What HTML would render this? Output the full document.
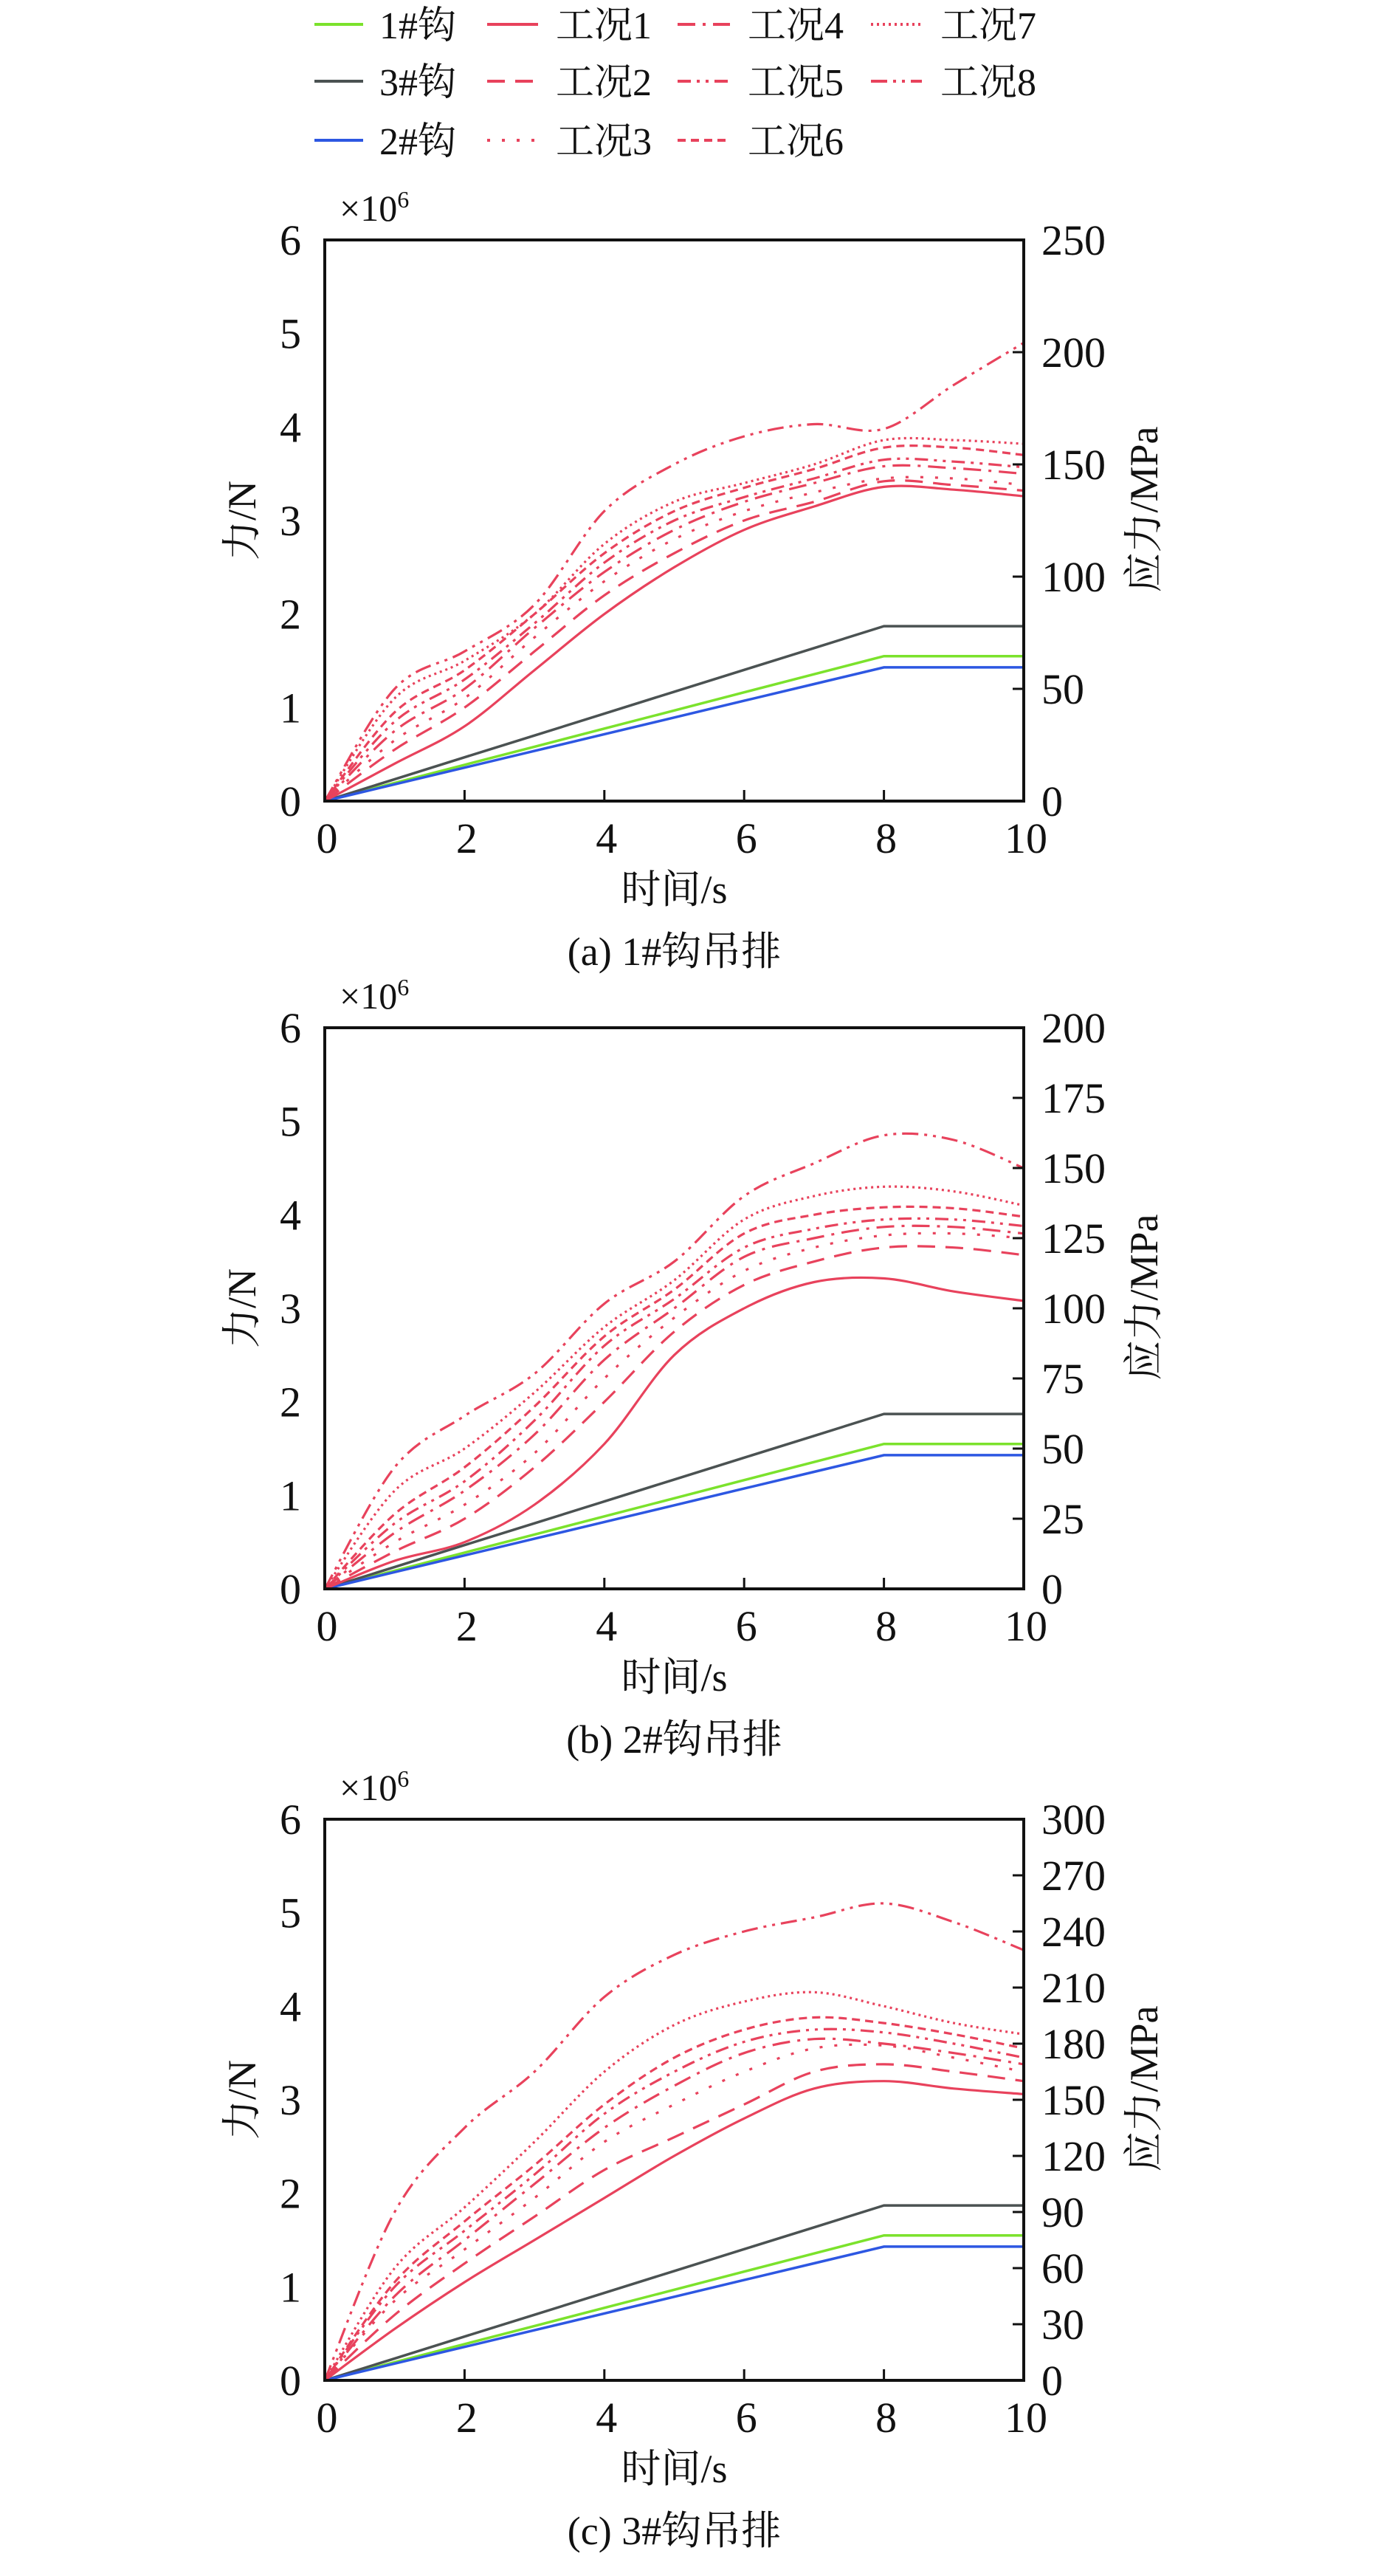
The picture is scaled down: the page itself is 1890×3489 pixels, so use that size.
<!DOCTYPE html>
<html><head><meta charset="utf-8"><style>
html,body{margin:0;padding:0;background:#fff;}
svg text{font-family:"Liberation Serif","Noto Serif CJK SC","Noto Sans CJK SC",serif;fill:#111;}
</style></head><body>
<svg id="fig" xmlns="http://www.w3.org/2000/svg" width="1890" height="3484" viewBox="0 0 1890 3484"></svg>
<script>
const timeVals=[0,1,2,3,4,5,6,7,8,9,10];
const hookNames=["1#钩","3#钩","2#钩"];
const hook1=[0,0.194,0.388,0.581,0.775,0.969,1.163,1.356,1.55,1.55,1.55];
const hook3=[0,0.234,0.468,0.701,0.935,1.169,1.403,1.636,1.87,1.87,1.87];
const hook2=[0,0.179,0.358,0.536,0.715,0.894,1.073,1.251,1.43,1.43,1.43];
const caseNames=["工况1","工况2","工况3","工况4","工况5","工况6","工况7","工况8"];
const a1=[0,0.4,0.8,1.4,2.0,2.5,2.9,3.15,3.36,3.33,3.26];
const a2=[0,0.55,1.0,1.6,2.2,2.65,3.0,3.2,3.42,3.38,3.32];
const a3=[0,0.65,1.1,1.75,2.35,2.8,3.1,3.3,3.45,3.45,3.38];
const a4=[0,0.75,1.2,1.85,2.45,2.9,3.2,3.4,3.58,3.56,3.5];
const a5=[0,0.85,1.3,1.9,2.55,3.0,3.25,3.45,3.65,3.63,3.57];
const a6=[0,0.95,1.4,2.0,2.65,3.1,3.35,3.55,3.78,3.78,3.7];
const a7=[0,1.1,1.5,2.0,2.75,3.2,3.4,3.6,3.86,3.86,3.82];
const a8=[0,1.2,1.6,2.1,3.1,3.6,3.9,4.03,3.98,4.45,4.9];
const b1=[0,0.3,0.5,0.9,1.55,2.5,3.0,3.28,3.32,3.18,3.08];
const b2=[0,0.4,0.75,1.3,2.0,2.75,3.25,3.5,3.65,3.65,3.57];
const b3=[0,0.5,0.9,1.45,2.25,2.9,3.4,3.65,3.78,3.8,3.75];
const b4=[0,0.6,1.05,1.65,2.45,3.0,3.55,3.75,3.87,3.87,3.8];
const b5=[0,0.7,1.15,1.8,2.6,3.1,3.65,3.85,3.95,3.95,3.88];
const b6=[0,0.8,1.3,1.95,2.7,3.2,3.8,4.0,4.08,4.07,3.98];
const b7=[0,1.05,1.5,2.1,2.8,3.3,3.95,4.2,4.3,4.25,4.1];
const b8=[0,1.3,1.85,2.3,3.05,3.5,4.2,4.55,4.85,4.8,4.5];
const c1=[0,0.55,1.05,1.5,1.95,2.4,2.8,3.12,3.2,3.12,3.06];
const c2=[0,0.7,1.25,1.75,2.25,2.6,2.95,3.3,3.38,3.3,3.2];
const c3=[0,0.85,1.4,1.95,2.55,2.95,3.3,3.55,3.58,3.45,3.3];
const c4=[0,0.9,1.5,2.1,2.7,3.15,3.5,3.65,3.6,3.5,3.38];
const c5=[0,1.0,1.6,2.2,2.85,3.3,3.62,3.75,3.72,3.6,3.45];
const c6=[0,1.05,1.7,2.3,2.95,3.45,3.75,3.88,3.82,3.7,3.55];
const c7=[0,1.2,1.85,2.55,3.3,3.8,4.05,4.15,4.0,3.82,3.7];
const c8=[0,1.8,2.7,3.3,4.1,4.55,4.8,4.95,5.1,4.9,4.6];
const xTicks=[0,2,4,6,8,10];
const leftTicks=[0,1,2,3,4,5,6];
const rightTicksA=[0,50,100,150,200,250];
const rightTicksB=[0,25,50,75,100,125,150,175,200];
const rightTicksC=[0,30,60,90,120,150,180,210,240,270,300];

const NS="http://www.w3.org/2000/svg";
const svg=document.getElementById('fig');
const RED="#e8425c";
const hookColors=["#7be22c","#4b5252","#2d57e2"];
const dashes=["","24,14","4,16","24,10,4,10","18,8,4,8,4,8","11,7","3,5","22,8,4,8,4,8"];
function mk(tag,attrs,parent){const e=document.createElementNS(NS,tag);for(const k in attrs)e.setAttribute(k,attrs[k]);(parent||svg).appendChild(e);return e;}
function txt(s,x,y,size,anchor,parent){const t=mk('text',{x:x,y:y,'font-size':size,'text-anchor':anchor||'start'},parent);t.textContent=s;return t;}
function smooth(pts){let d="M"+pts[0][0]+","+pts[0][1];for(let i=0;i<pts.length-1;i++){const p0=pts[Math.max(0,i-1)],p1=pts[i],p2=pts[i+1],p3=pts[Math.min(pts.length-1,i+2)];const c1x=p1[0]+(p2[0]-p0[0])/6,c1y=p1[1]+(p2[1]-p0[1])/6,c2x=p2[0]-(p3[0]-p1[0])/6,c2y=p2[1]-(p3[1]-p1[1])/6;d+=" C"+c1x.toFixed(1)+","+c1y.toFixed(1)+" "+c2x.toFixed(1)+","+c2y.toFixed(1)+" "+p2[0].toFixed(1)+","+p2[1].toFixed(1);}return d;}

const leg=mk('g',{});


const rowsY=[33,110,190];
hookNames.forEach((n,i)=>{
  const g=mk('g',{},leg);
  
  
  mk('line',{x1:426,x2:492,y1:rowsY[i],y2:rowsY[i],stroke:hookColors[i],'stroke-width':4},g);
  txt(n,514,rowsY[i]+19,52,'start',g);
});
const colX=[[660,729,753],[918,989,1013],[1180,1249,1274]];
caseNames.forEach((n,i)=>{
  const c=colX[Math.floor(i/3)],y=rowsY[i%3];
  const g=mk('g',{},leg);
  
  
  mk('line',{x1:c[0],x2:c[1],y1:y,y2:y,stroke:RED,'stroke-width':4,'stroke-dasharray':dashes[i]},g);
  txt(n,c[2],y+19,52,'start',g);
});

function chart(id,top,bottom,cases,rTicks,rMax,caption){
  const L=440,R=1387;
  const g=mk('g',{});
  
  
  const xs=v=>L+(R-L)*v/10;
  const ys=v=>bottom-(bottom-top)*v/6;
  const yr=v=>bottom-(bottom-top)*v/rMax;
  const series=[hook1,hook3,hook2];
  series.forEach((s,i)=>{
    const p=mk('path',{d:"M"+s.map((v,j)=>xs(timeVals[j]).toFixed(1)+","+ys(v).toFixed(1)).join(" L"),fill:'none',stroke:hookColors[i],'stroke-width':3.5},g);
    
    
  });
  cases.forEach((s,i)=>{
    const p=mk('path',{d:smooth(s.map((v,j)=>[xs(timeVals[j]),ys(v)])),fill:'none',stroke:RED,'stroke-width':3.2,'stroke-dasharray':dashes[i]},g);
    
    
  });
  const fr=mk('rect',{x:L,y:top,width:R-L,height:bottom-top,fill:'none',stroke:'#111','stroke-width':4},g);
  
  
  xTicks.forEach(v=>{
    if(v>0&&v<10) mk('line',{x1:xs(v),x2:xs(v),y1:bottom,y2:bottom-15,stroke:'#111','stroke-width':3},g);
    const t=txt(String(v),xs(v)+3,bottom+70,58,'middle',g);
    
    
  });
  leftTicks.forEach(v=>{
    const t=txt(String(v),L-32,ys(v)+20,58,'end',g);
    
    
  });
  rTicks.forEach(v=>{
    if(v>0&&v<rMax) mk('line',{x1:R,x2:R-15,y1:yr(v),y2:yr(v),stroke:'#111','stroke-width':3},g);
    const t=txt(String(v),R+24,yr(v)+20,58,'start',g);
    
    
  });
  const mul=txt('×10',460,top-26,50,'start',g);
  
  
  const sup=mk('tspan',{'font-size':32,dy:-18},mul);sup.textContent='6';
  const cy=(top+bottom)/2;
  const yl=txt('力/N',0,0,54,'middle',g);
  yl.setAttribute('transform','translate(346,'+cy+') rotate(-90)');
  
  
  const rl=txt('应力/MPa',0,0,54,'middle',g);
  rl.setAttribute('transform','translate(1568,'+(cy-15)+') rotate(-90)');
  
  
  const xl=txt('时间/s',(L+R)/2,bottom+138,54,'middle',g);
  
  
  const cp=txt(caption,(L+R)/2,bottom+222,54,'middle',g);
  
  
}
chart('a',325,1085,[a1,a2,a3,a4,a5,a6,a7,a8],rightTicksA,250,'(a) 1#钩吊排');
chart('b',1392,2152,[b1,b2,b3,b4,b5,b6,b7,b8],rightTicksB,200,'(b) 2#钩吊排');
chart('c',2464,3224,[c1,c2,c3,c4,c5,c6,c7,c8],rightTicksC,300,'(c) 3#钩吊排');
</script>
</body></html>
